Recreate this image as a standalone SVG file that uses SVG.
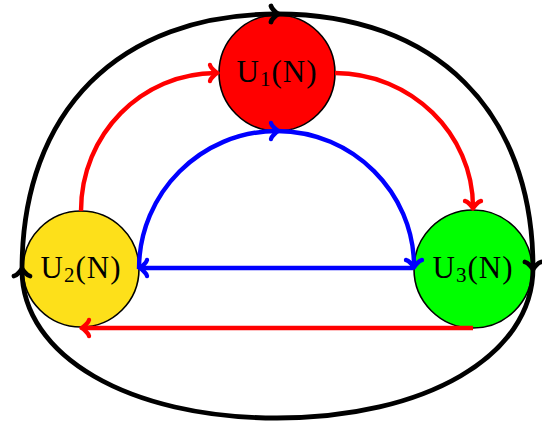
<svg xmlns="http://www.w3.org/2000/svg" width="542" height="422" viewBox="0 0 542 422">
<style>
.node circle{stroke:#000;stroke-width:1.6}
.lbl{font-family:"Liberation Serif","Times New Roman",serif;font-size:31px;fill:#000;text-anchor:middle;letter-spacing:1px}
.sub{font-size:21px}
.c{fill:none;stroke-linecap:butt}
.k{stroke:#000;stroke-width:4.8}
.r{stroke:#f00;stroke-width:4.4}
.b{stroke:#00f;stroke-width:4.4}
.tip{fill:none;stroke-linecap:round;stroke-linejoin:round}
</style>
<defs>
<marker id="mk" markerUnits="userSpaceOnUse" orient="auto" overflow="visible" markerWidth="1" markerHeight="1" refX="0" refY="0">
<path class="tip" d="M-6,8 C-5.5,5 0,0.5 1.5,0 C0,-0.5 -5.5,-5 -6,-8" stroke="#000" stroke-width="4.8"/>
</marker>
<marker id="mr" markerUnits="userSpaceOnUse" orient="auto" overflow="visible" markerWidth="1" markerHeight="1" refX="0" refY="0">
<path class="tip" d="M-6,8 C-5.5,5 0,0.5 1.5,0 C0,-0.5 -5.5,-5 -6,-8" stroke="#f00" stroke-width="4.4"/>
</marker>
<marker id="mb" markerUnits="userSpaceOnUse" orient="auto" overflow="visible" markerWidth="1" markerHeight="1" refX="0" refY="0">
<path class="tip" d="M-6,8 C-5.5,5 0,0.5 1.5,0 C0,-0.5 -5.5,-5 -6,-8" stroke="#00f" stroke-width="4.4"/>
</marker>
</defs>
<g id="U1" class="node">
<circle cx="277" cy="73" r="58" fill="#ff0000"/>
<text class="lbl" x="277" y="82">U<tspan class="sub" dy="4">1</tspan><tspan dy="-4">(N)</tspan></text>
</g>
<g id="U2" class="node">
<circle cx="81" cy="269" r="58" fill="#fde01a"/>
<text class="lbl" x="81" y="278">U<tspan class="sub" dy="4">2</tspan><tspan dy="-4">(N)</tspan></text>
</g>
<g id="U3" class="node">
<circle cx="473" cy="269" r="59" fill="#00ff00"/>
<text class="lbl" x="473" y="278">U<tspan class="sub" dy="4">3</tspan><tspan dy="-4">(N)</tspan></text>
</g>
<g id="connectors">
<path class="c k" d="M277,418 C129,418 22,356 22,270" marker-end="url(#mk)"/>
<path class="c k" d="M22,270 C22,111 119,14 277,14" marker-end="url(#mk)"/>
<path class="c k" d="M277,14 C435,14 533,111 533,268" marker-end="url(#mk)"/>
<path class="c k" d="M533,268 C533,356 425,418 277,418"/>
<path class="c r" d="M81,211 C81,134 142,73 216,73" marker-end="url(#mr)"/>
<path class="c r" d="M335,73 C411,73 473,134 473,207" marker-end="url(#mr)"/>
<path class="c r" d="M473,328 L83,328" marker-end="url(#mr)"/>
<path class="c b" d="M139,269 C139,193 201,131 277,131" marker-end="url(#mb)"/>
<path class="c b" d="M277,131 C353,131 414,193 414,266" marker-end="url(#mb)"/>
<path class="c b" d="M413,268 L141,268" marker-end="url(#mb)"/>
</g>
</svg>
